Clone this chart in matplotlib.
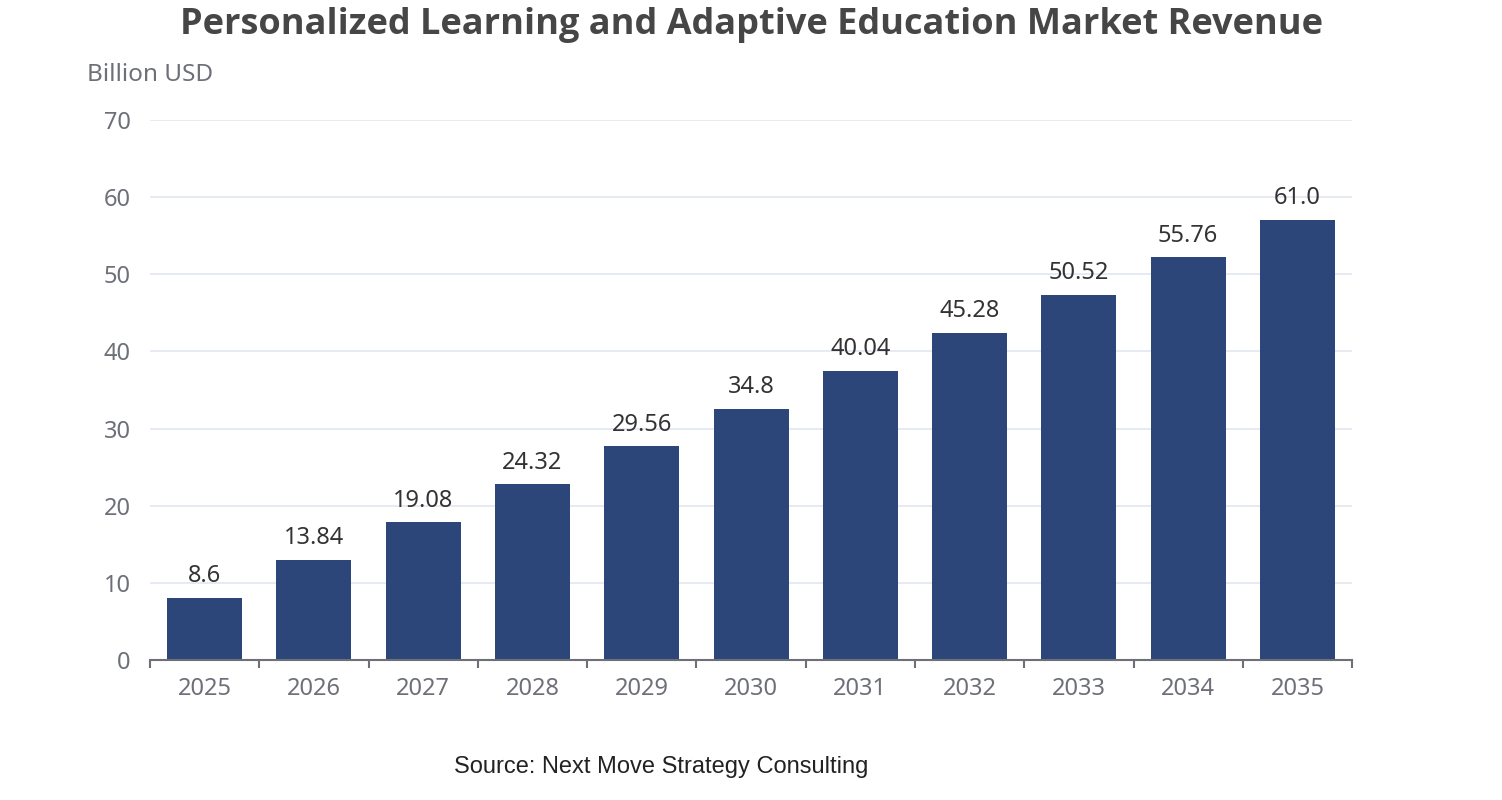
import numpy as np
import matplotlib.pyplot as plt

years = ["2025", "2026", "2027", "2028", "2029", "2030",
         "2031", "2032", "2033", "2034", "2035"]
# bar heights as drawn in the reference
bar_values = [8.05, 12.95, 17.86, 22.77, 27.69, 32.6,
              37.52, 42.43, 47.29, 52.2, 57.1]
# value labels as printed above the bars
labels = ["8.6", "13.84", "19.08", "24.32", "29.56", "34.8",
          "40.04", "45.28", "50.52", "55.76", "61.0"]
y_ticks = [0, 10, 20, 30, 40, 50, 60, 70]

plt.rcParams["font.family"] = ["Noto Sans", "DejaVu Sans"]

fig = plt.figure(figsize=(15.02, 8), dpi=100)
ax = fig.add_axes([0.0999, 0.175, 0.8003, 0.675])

x = np.arange(len(years))
ax.bar(x, bar_values, width=0.686, color="#2c4679", zorder=3)

for xi, v, lab in zip(x, bar_values, labels):
    ax.annotate(lab, (xi, v), xytext=(0, 7), textcoords="offset points",
                ha="center", va="bottom", fontsize=17, color="#333333")

ax.set_xlim(-0.5, len(years) - 0.5)
ax.set_ylim(0, 70)
ax.set_yticks(y_ticks)
ax.set_yticklabels([str(t) for t in y_ticks], fontsize=17, color="#6e7079")
ax.set_xticks(x)
ax.set_xticklabels(years, fontsize=17, color="#6e7079")
ax.tick_params(axis="x", length=0, pad=12)
ax.tick_params(axis="y", length=0, pad=14)
# boundary ticks between categories
ax.set_xticks(np.arange(-0.5, len(years)), minor=True)
ax.tick_params(axis="x", which="minor", length=6, width=1.5, color="#6e7079")

ax.grid(axis="y", color="#e0e6f1", linewidth=1.2, zorder=0)
for s in ["top", "right", "left"]:
    ax.spines[s].set_visible(False)
ax.spines["bottom"].set_color("#6e7079")
ax.spines["bottom"].set_linewidth(1.5)
ax.spines["bottom"].set_zorder(4)

fig.text(0.058, 0.906, "Billion USD", fontsize=17.5, color="#6e7079",
         ha="left", va="center")
fig.text(0.5, 0.969, "Personalized Learning and Adaptive Education Market Revenue",
         fontsize=26, fontweight="bold", color="#464646", ha="center", va="center",
         family="Open Sans")
fig.text(0.44, 0.041, "Source: Next Move Strategy Consulting", fontsize=17,
         color="#222222", ha="center", va="center", family="Liberation Sans")

fig.savefig("out.png", dpi=100)
